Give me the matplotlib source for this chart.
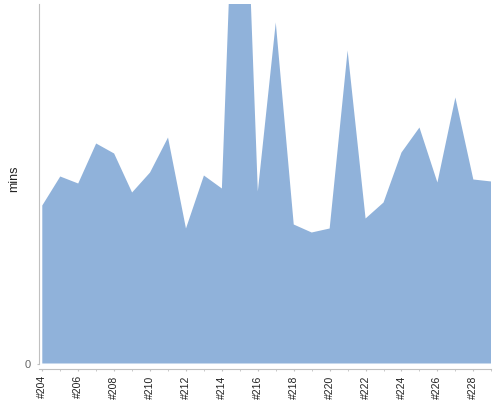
import numpy as np
import matplotlib
matplotlib.use("Agg")
import matplotlib.pyplot as plt

# build numbers and the time of each build
builds = list(range(204, 230))
mins = [158, 187, 180, 220, 210, 171, 191, 226, 135, 188, 175, 660, 172,
        341, 139, 131, 135, 313, 145, 161, 211, 236, 181, 266, 184, 182]
label_builds = builds[::2]
tick_labels = ["#%d" % b for b in label_builds]

plt.rcParams['font.family'] = ['Liberation Sans', 'DejaVu Sans']

fig = plt.figure(figsize=(5, 4), dpi=100)
ax = fig.add_axes([38.7 / 500, 36.5 / 400, 452.6 / 500, 359.5 / 400])

ax.fill_between(builds, mins, 0, color="#90b2da", lw=0)

ax.set_xlim(203.8, 229)
ax.set_ylim(0, 359.5)

for s in ("top", "right"):
    ax.spines[s].set_visible(False)
ax.spines["left"].set_color("#c0c0c0")
ax.spines["bottom"].set_color("#c0c0c0")
ax.spines["bottom"].set_position(("outward", 3.6))

ax.set_xticks(label_builds)
ax.set_xticklabels(tick_labels, rotation=90, fontsize=7.5, color="#222222")
ax.set_xticks(builds, minor=True)
ax.tick_params(axis="x", which="both", length=1.6, color="#c0c0c0",
               pad=3.3)
ax.set_yticks([0])
ax.set_yticklabels(["0"], fontsize=8, color="#666666")
ax.tick_params(axis="y", length=1.8, color="#c0c0c0", pad=4)

ax.set_ylabel("mins", fontsize=9, color="#222222")
ax.yaxis.set_label_coords(-0.042, 0.513)

fig.savefig("out.png", dpi=100)
